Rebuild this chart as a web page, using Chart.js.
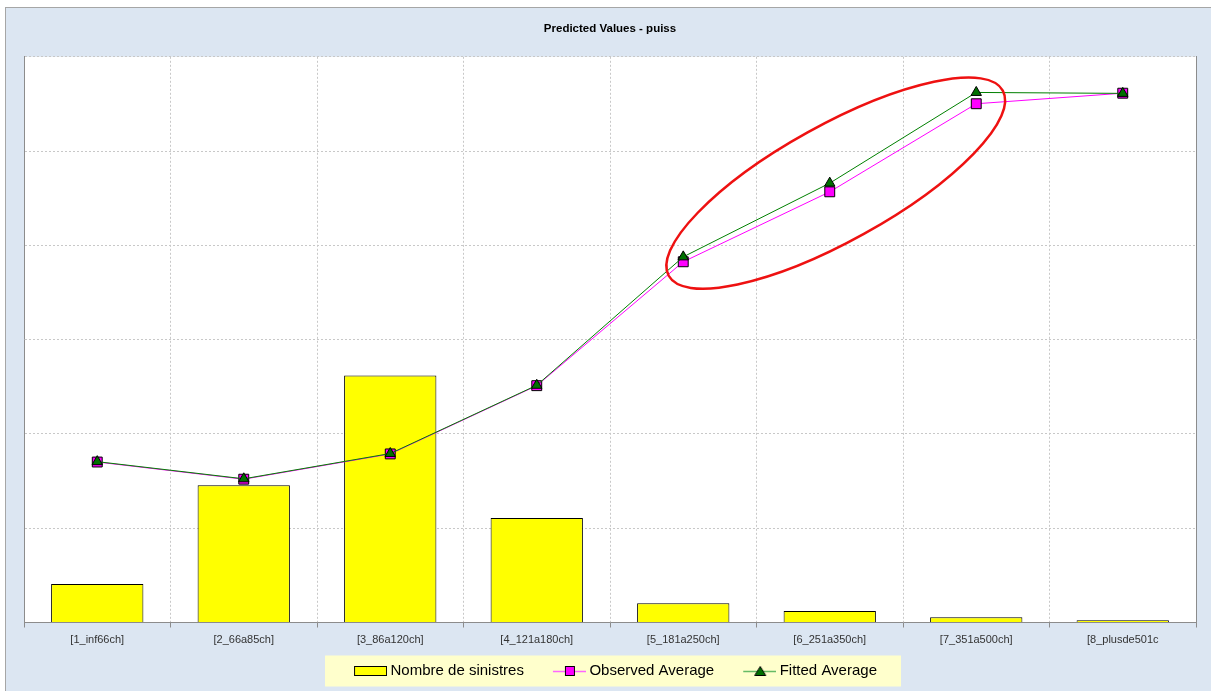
<!DOCTYPE html>
<html>
<head>
<meta charset="utf-8">
<title>Predicted Values - puiss</title>
<script src="https://cdn.jsdelivr.net/npm/chart.js@4.4.1/dist/chart.umd.min.js"></script>
<style>
  html, body { margin: 0; padding: 0; background: #fff; overflow: hidden; }
  #frame { position: absolute; left: 5px; top: 7px; width: 1240px; height: 720px; background: #dce6f2; border: 1px solid #a6a6a6; }
  #chart { position: absolute; left: 0; top: 0; }
</style>
</head>
<body>
<div id="frame"></div>
<canvas id="chart" width="1211" height="691"></canvas>
<script>
// categories and series
const categories = ['[1_inf66ch]', '[2_66a85ch]', '[3_86a120ch]', '[4_121a180ch]', '[5_181a250ch]', '[6_251a350ch]', '[7_351a500ch]', '[8_plusde501c'];
const nombreSinistres = [408, 1456, 2619, 1109, 204, 122, 55, 25];
const observedAverage = [851, 760, 894, 1256, 1913, 2284, 2751, 2807];
const fittedAverage = [853, 762, 896, 1258, 1939, 2330, 2811, 2806];

const FONT = 'Liberation Sans, Arial, sans-serif';
const LEG_PAD = 18;

// legend icons: marker drawn on the right part of a wider transparent canvas
function legendIcon(kind) {
  const c = document.createElement('canvas');
  c.width = 48; c.height = 12;
  const g = c.getContext('2d');
  const x0 = 15, x1 = 48, cy = 6;
  if (kind === 'bar') {
    g.fillStyle = '#ffff00';
    g.fillRect(x0 + 0.5, 1.5, 32, 9);
    g.strokeStyle = '#000';
    g.lineWidth = 1;
    g.strokeRect(x0 + 0.5, 1.5, 32, 9);
  } else if (kind === 'obs') {
    g.strokeStyle = '#ff66ff';
    g.lineWidth = 1.5;
    g.beginPath(); g.moveTo(x0, cy + 0.5); g.lineTo(x1, cy + 0.5); g.stroke();
    g.fillStyle = '#ff00ff';
    g.fillRect(x0 + 12.5, 1.5, 9, 9);
    g.strokeStyle = '#000';
    g.lineWidth = 1;
    g.strokeRect(x0 + 12.5, 1.5, 9, 9);
  } else {
    g.strokeStyle = '#66bb66';
    g.lineWidth = 1.5;
    g.beginPath(); g.moveTo(x0, cy + 0.5); g.lineTo(x1, cy + 0.5); g.stroke();
    g.fillStyle = '#007000';
    g.strokeStyle = '#000';
    g.lineWidth = 1;
    g.beginPath();
    g.moveTo(x0 + 17, 1.5); g.lineTo(x0 + 22.5, 10.5); g.lineTo(x0 + 11.5, 10.5); g.closePath();
    g.fill(); g.stroke();
  }
  return c;
}

// white plot area, pale yellow box behind the legend, red ellipse
const decorations = {
  id: 'decorations',
  beforeDraw(chart) {
    const ctx = chart.ctx;
    const a = chart.chartArea;
    ctx.save();
    ctx.fillStyle = '#ffffff';
    ctx.fillRect(a.left, a.top, a.right - a.left, a.bottom - a.top);
    const lg = chart.legend;
    if (lg && lg.legendHitBoxes && lg.legendHitBoxes.length) {
      const boxes = lg.legendHitBoxes;
      const left = boxes[0].left - LEG_PAD;
      const last = boxes[boxes.length - 1];
      const right = last.left + last.width + 24;
      ctx.fillStyle = '#ffffcc';
      ctx.fillRect(left, lg.top + LEG_PAD - 8, right - left, 31);
    }
    ctx.restore();
  },
  afterDatasetsDraw(chart) {
    const xs = chart.scales.x, ys = chart.scales.yLine;
    const cx = xs.getPixelForValue(5) + 6;
    const cy = ys.getPixelForValue(2330);
    const ctx = chart.ctx;
    ctx.save();
    ctx.strokeStyle = '#ee1111';
    ctx.lineWidth = 2.5;
    ctx.beginPath();
    ctx.ellipse(cx, cy, 191, 58, -29 * Math.PI / 180, 0, Math.PI * 2);
    ctx.stroke();
    ctx.restore();
  }
};

const cfg = {
  type: 'bar',
  data: {
    labels: categories,
    datasets: [
      {
        type: 'bar',
        label: 'Nombre de sinistres',
        data: nombreSinistres,
        yAxisID: 'y',
        backgroundColor: '#ffff00',
        borderColor: '#000000',
        borderWidth: 1,
        barPercentage: 0.63,
        categoryPercentage: 1,
        order: 3
      },
      {
        type: 'line',
        label: 'Observed Average',
        data: observedAverage,
        yAxisID: 'yLine',
        borderColor: '#ff00ff',
        borderWidth: 1,
        pointStyle: 'rect',
        pointRadius: 7,
        pointBackgroundColor: '#ff00ff',
        pointBorderColor: '#000000',
        pointBorderWidth: 1,
        tension: 0,
        order: 2
      },
      {
        type: 'line',
        label: 'Fitted Average',
        data: fittedAverage,
        yAxisID: 'yLine',
        borderColor: '#008000',
        borderWidth: 1,
        pointStyle: 'triangle',
        pointRadius: 6,
        pointBackgroundColor: '#007000',
        pointBorderColor: '#000000',
        pointBorderWidth: 1,
        tension: 0,
        order: 1
      }
    ]
  },
  options: {
    responsive: false,
    animation: false,
    layout: { padding: { left: 24, right: 15, top: 0, bottom: 2.5 } },
    plugins: {
      title: {
        display: true,
        text: 'Predicted Values - puiss',
        color: '#000',
        font: { family: FONT, size: 11.5, weight: 'bold', lineHeight: 1.2 },
        padding: { top: 22, bottom: 21 }
      },
      tooltip: { enabled: false },
      legend: {
        position: 'bottom',
        labels: {
          usePointStyle: true,
          pointStyleWidth: 40,
          padding: LEG_PAD,
          color: '#000',
          font: { family: FONT, size: 15 },
          generateLabels() {
            return [
              { text: 'Nombre de sinistres', pointStyle: legendIcon('bar'), datasetIndex: 0, fillStyle: '#ffff00', strokeStyle: '#000', lineWidth: 0 },
              { text: 'Observed Average', pointStyle: legendIcon('obs'), datasetIndex: 1, fillStyle: '#ff00ff', strokeStyle: '#000', lineWidth: 0 },
              { text: 'Fitted Average', pointStyle: legendIcon('fit'), datasetIndex: 2, fillStyle: '#007000', strokeStyle: '#000', lineWidth: 0 }
            ];
          }
        }
      }
    },
    scales: {
      x: {
        grid: {
          offset: true,
          color: '#c8c8c8',
          tickColor: '#8c8c8c',
          tickLength: 5,
          drawOnChartArea: true
        },
        border: { display: true, color: '#8c8c8c', width: 1, dash: [2, 2] },
        ticks: {
          color: '#333333',
          padding: 6,
          maxRotation: 0,
          autoSkip: false,
          font: { family: FONT, size: 11 }
        },
        afterFit(scale) { scale.height = 23; }
      },
      y: {
        position: 'left',
        min: 0,
        max: 6000,
        ticks: { display: false, stepSize: 1000 },
        grid: { color: '#c8c8c8', drawTicks: false },
        border: { display: true, color: '#8c8c8c', width: 1, dash: [2, 2] }
      },
      yLine: {
        position: 'right',
        min: 0,
        max: 3000,
        ticks: { display: false, stepSize: 500 },
        grid: { display: false, drawTicks: false },
        border: { display: true, color: '#8c8c8c', width: 1 }
      }
    }
  },
  plugins: [decorations]
};

new Chart(document.getElementById('chart'), cfg);
</script>
</body>
</html>
